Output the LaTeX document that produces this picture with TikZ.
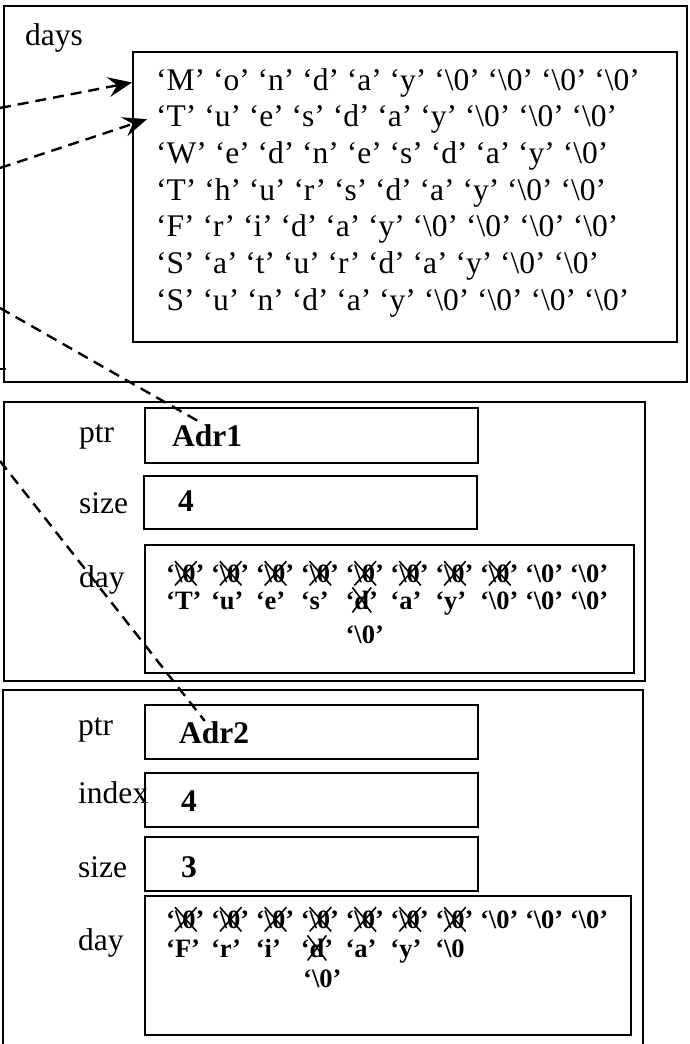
\documentclass[tikz,border=0pt]{standalone}
\usepackage{fontspec}
\setmainfont{Liberation Serif}
\usetikzlibrary{arrows.meta}
\newcommand\bigtxt{\fontsize{31.5}{36}\selectfont}
\newcommand\celltxt{\fontsize{26.5}{30}\selectfont\bfseries}
\newcommand\nul{\textbackslash0}

\begin{document}
\begin{tikzpicture}[x=1pt,y=-1pt,>={Stealth[length=24pt,width=20pt,inset=9pt]},
  frame/.style={draw=black,line width=2.2pt},
  field/.style={draw=black,line width=1.8pt,anchor=north west,inner sep=0pt},
  lbl/.style={anchor=base west,inner sep=0pt,font=\bigtxt},
  val/.style={anchor=base west,inner sep=0pt,font=\bigtxt\bfseries},
  cell/.style={anchor=base west,inner sep=0pt,font=\celltxt},
  link/.style={draw=black,line width=2.4pt,dash pattern=on 11pt off 7pt},
  strike/.style={draw=black,line width=1.6pt}]
\useasboundingbox (0,0) rectangle (689,1044);

% the days table
\draw[frame] (4,6) rectangle (687,382);
\draw[frame] (0,369) -- (6,369);
\node[lbl] (days) at (25,45) {days};
\node[field,minimum width=544pt,minimum height=290pt] (week) at (132,51) {};
\foreach \w [count=\k] in {
  {‘M’ ‘o’ ‘n’ ‘d’ ‘a’ ‘y’ ‘\nul’ ‘\nul’ ‘\nul’ ‘\nul’},
  {‘T’ ‘u’ ‘e’ ‘s’ ‘d’ ‘a’ ‘y’ ‘\nul’ ‘\nul’ ‘\nul’},
  {‘W’ ‘e’ ‘d’ ‘n’ ‘e’ ‘s’ ‘d’ ‘a’ ‘y’ ‘\nul’},
  {‘T’ ‘h’ ‘u’ ‘r’ ‘s’ ‘d’ ‘a’ ‘y’ ‘\nul’ ‘\nul’},
  {‘F’ ‘r’ ‘i’ ‘d’ ‘a’ ‘y’ ‘\nul’ ‘\nul’ ‘\nul’ ‘\nul’},
  {‘S’ ‘a’ ‘t’ ‘u’ ‘r’ ‘d’ ‘a’ ‘y’ ‘\nul’ ‘\nul’},
  {‘S’ ‘u’ ‘n’ ‘d’ ‘a’ ‘y’ ‘\nul’ ‘\nul’ ‘\nul’ ‘\nul’}}
  \node[lbl] (r\k) at (156,{53.3+36.7*\k}) {\w};

% first struct
\draw[frame] (4,402) rectangle (645,681);
\node[lbl] (ptrA) at (79,442) {ptr};
\node[field,minimum width=333pt,minimum height=55pt] (ptrAbox) at (144,407) {};
\node[val] (adr1) at (172,446) {Adr1};
\node[lbl] (sizeA) at (79,513) {size};
\node[field,minimum width=333pt,minimum height=53pt] (sizeAbox) at (143,475) {};
\node[val] (sizeAval) at (178,511) {4};
\node[lbl] (dayA) at (79,587) {day};
\node[field,minimum width=489pt,minimum height=128pt] (dayAbox) at (144,544) {};
\foreach \i in {0,...,9}
  \node[cell] (a\i) at ({166+44.85*\i},582) {‘\nul’};
\foreach \c [count=\k from 0] in {T,u,e,s,d,a,y,\nul,\nul,\nul}
  \node[cell] (b\k) at ({166+44.85*\k},609) {‘\c’};
\node[cell] (aend) at ({166+44.85*4},643) {‘\nul’};
\foreach \i in {0,...,7} {
  \draw[strike] ([xshift=9pt,yshift=-3pt]a\i.south west) -- ([xshift=-8pt,yshift=3pt]a\i.north east);
  \draw[strike] ([xshift=9pt,yshift=3pt]a\i.north west) -- ([xshift=-8pt,yshift=-3pt]a\i.south east);
}
\draw[strike] ([xshift=7pt,yshift=-3pt]b4.south west) -- ([xshift=-7pt,yshift=3pt]b4.north east);
\draw[strike] ([xshift=7pt,yshift=3pt]b4.north west) -- ([xshift=-7pt,yshift=-3pt]b4.south east);

% second struct
\draw[frame] (3,1050) |- (643,690) -- (643,1050);
\node[lbl] (ptrB) at (78,735) {ptr};
\node[field,minimum width=333pt,minimum height=54pt] (ptrBbox) at (144,704) {};
\node[val] (adr2) at (179,743) {Adr2};
\node[lbl] (indexB) at (78,803) {index};
\node[field,minimum width=333pt,minimum height=54pt] (indexBbox) at (144,772) {};
\node[val] (indexBval) at (181,811) {4};
\node[lbl] (sizeB) at (78,877) {size};
\node[field,minimum width=333pt,minimum height=54pt] (sizeBbox) at (144,836) {};
\node[val] (sizeBval) at (181,877) {3};
\node[lbl] (dayB) at (78,950) {day};
\node[field,minimum width=486pt,minimum height=139pt] (dayBbox) at (144,895) {};
\foreach \i in {0,...,9}
  \node[cell] (c\i) at ({166+44.85*\i},928) {‘\nul’};
\foreach \c [count=\k from 0] in {F,r,i,d,a,y}
  \node[cell] (d\k) at ({166+44.85*\k},957) {‘\c’};
\node[cell] (d6) at ({166+44.85*6},957) {‘\nul};
\node[cell] (cend) at (303,987) {‘\nul’};
\foreach \i in {0,...,6} {
  \draw[strike] ([xshift=9pt,yshift=-3pt]c\i.south west) -- ([xshift=-8pt,yshift=3pt]c\i.north east);
  \draw[strike] ([xshift=9pt,yshift=3pt]c\i.north west) -- ([xshift=-8pt,yshift=-3pt]c\i.south east);
}
\draw[strike] ([xshift=7pt,yshift=-3pt]d3.south west) -- ([xshift=-7pt,yshift=3pt]d3.north east);
\draw[strike] ([xshift=7pt,yshift=3pt]d3.north west) -- ([xshift=-7pt,yshift=-3pt]d3.south east);

% pointers coming in from the left
\coordinate (t1) at (0,108);
\coordinate (t2) at (0,168);
\coordinate (t3) at (0,308);
\coordinate (t4) at (0,461);
\draw[link,->] (t1) -- (r1.west -| week.west);
\draw[link,->] (t2) -- ([xshift=-9pt]r2.west);
\draw[link] (t3) -- (adr1.110);
\draw[link] (t4) -- (adr2.130);
\end{tikzpicture}
\end{document}
